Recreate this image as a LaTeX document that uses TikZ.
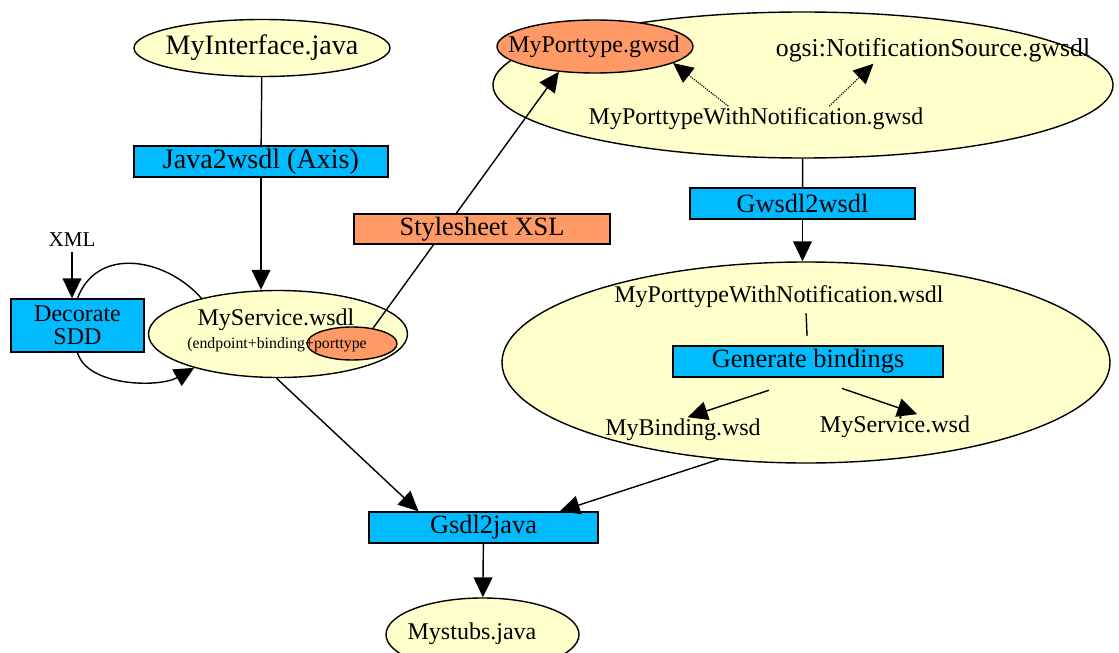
\documentclass[tikz,border=0pt]{standalone}
\usepackage{fontspec}
\setmainfont{Liberation Serif}
\usetikzlibrary{arrows.meta,positioning,shapes.geometric}
\definecolor{cream}{RGB}{255,255,204}
\definecolor{toolblue}{RGB}{0,187,255}
\definecolor{xslorange}{RGB}{255,153,102}

\begin{document}
\begin{tikzpicture}[
    x=0.03cm, y=-0.03cm,
    >={Triangle[length=17pt,width=16pt]},
    line width=1.2pt,
    every node/.style={font=\fontsize{22.5}{26}\selectfont},
    oval/.style={draw, ellipse, fill=cream, inner sep=0pt},
    hot/.style={draw, ellipse, fill=xslorange, inner sep=0pt},
    tool/.style={draw, fill=toolblue, inner sep=0pt, minimum height=0.93cm, align=center},
    xsl/.style={draw, fill=xslorange, inner sep=0pt, minimum height=0.9cm},
    fname/.style={inner sep=1pt, font=\fontsize{20.5}{24}\selectfont},
    dep/.style={->, densely dotted, line width=1pt},
  ]
    \useasboundingbox (0,0) rectangle (1119,653);
    \clip (0,0) rectangle (1119,653);

    \node[oval, minimum width=7.68cm, minimum height=1.71cm] (iface) at (262,48) {};
    \node[font=\fontsize{24}{28}\selectfont] (ifacetxt) at (iface) {MyInterface.java};
    \node[tool, minimum width=7.62cm, font=\fontsize{24}{28}\selectfont] (j2w) at (261,161.5) {Java2wsdl (Axis)};
    \node[tool, minimum width=3.99cm, minimum height=1.59cm, font=\fontsize{20.5}{20}\selectfont] (dsdd) at (77.5,325.5) {Decorate\\SDD};
    \node[font=\fontsize{18}{20}\selectfont] (xml) at (72,240) {XML};

    \node[oval, minimum width=7.77cm, minimum height=2.61cm] (svc) at (278,334) {};
    \node[hot, minimum width=2.7cm, minimum height=0.99cm] (ptsm) at (352,343.5) {};
    \node[fname] (svctxt) at (276,320) {MyService.wsdl};
    \node[inner sep=0pt, font=\fontsize{13.5}{15}\selectfont] (svcsub) at (277,345) {(endpoint+binding+porttype};

    \node[oval, minimum width=18.6cm, minimum height=4.38cm] (notif) at (803,85) {};
    \node[hot, minimum width=5.88cm, minimum height=1.59cm] (ptg) at (595,46.5) {};
    \node[fname] (ptgtxt) at (594,47) {MyPorttype.gwsd};
    \node[fname, font=\fontsize{22}{24}\selectfont] (ogsi) at (933,50) {ogsi:NotificationSource.gwsdl};
    \node[fname] (pwn) at (756,119) {MyPorttypeWithNotification.gwsd};

    \node[tool, minimum width=6.75cm] (w2w) at (802.5,203.5) {Gwsdl2wsdl};

    \node[oval, minimum width=18.24cm, minimum height=6.03cm] (bind) at (806,362.5) {};
    \node[fname] (pwnw) at (779,297) {MyPorttypeWithNotification.wsdl};
    \node[tool, minimum width=8.1cm] (genb) at (808,361.5) {Generate bindings};
    \node[fname] (mybind) at (683,430) {MyBinding.wsd};
    \node[fname] (mysvc) at (895,427) {MyService.wsd};

    \node[tool, minimum width=6.87cm] (g2j) at (483.5,527.5) {Gsdl2java};
    \node[oval, minimum width=5.79cm, minimum height=2.19cm] (stubs) at (482.5,634.5) {};
    \node[fname] (stubstxt) at (472,634) {Mystubs.java};

    \draw (iface) -- (j2w);
    \draw[->] (j2w.south) -- (j2w.south |- svc.north);
    \draw[->] (xml.south) -- (xml.south |- dsdd.north);
    \draw (dsdd.north) .. controls +(20,-53) and +(-35,-40) .. (svc.155);
    \draw[->] (dsdd.south) .. controls +(10,34) and +(-35,20) .. (svc.202);
    \draw[->] (ptsm.36) -- (ptg.215);
    \draw[dep] (pwn.155) -- (ptg.348);
    \draw[dep] (pwn.10) -- (ogsi.193);
    \draw (notif) -- (w2w);
    \draw[->] (w2w.south) -- (w2w.south |- bind.north);
    \draw[shorten <=3pt, shorten >=8pt] (pwnw.south -| bind) -- (genb);
    \draw[->, shorten <=34pt] (genb.-95) -- (mybind.70);
    \draw[->, shorten <=28pt] (genb.-80) -- (mysvc.30);
    \draw[->] (svc.268) -- (g2j.166);
    \draw[->] (bind.228) -- (g2j.12);
    \draw[->] (g2j) -- (stubs);

    \node[xsl, minimum width=7.68cm] (xslt) at (482,229) {Stylesheet XSL};
  \end{tikzpicture}
\end{document}
